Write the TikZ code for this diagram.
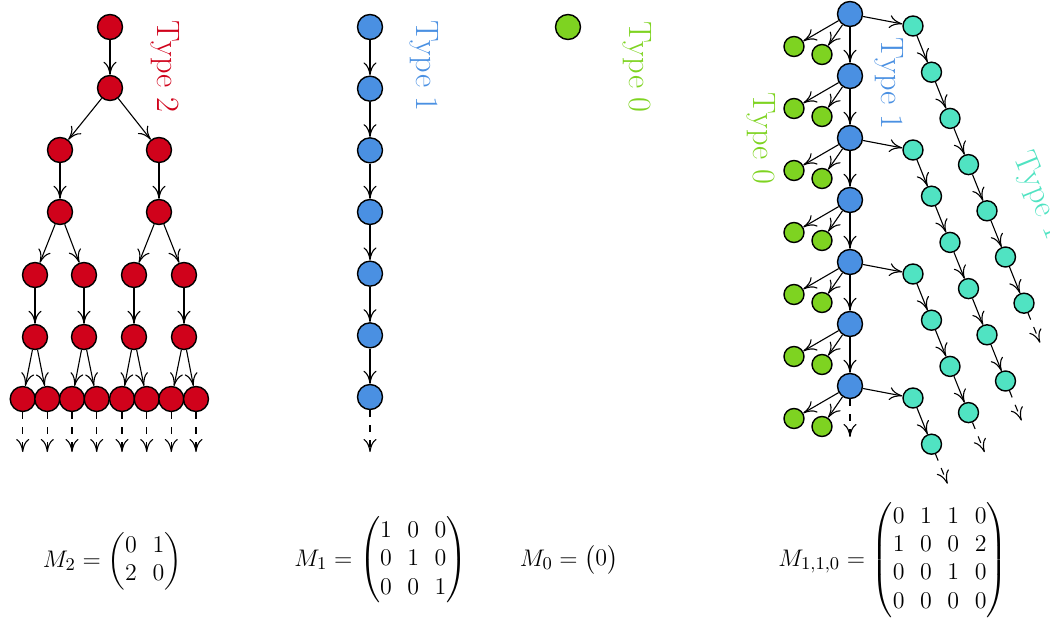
\documentclass[tikz,border=0pt]{standalone}
\usepackage{amsmath}
\usetikzlibrary{arrows.meta}
\definecolor{tred}{HTML}{D0021B}
\definecolor{tblue}{HTML}{4A90E2}
\definecolor{tgreen}{HTML}{7ED321}
\definecolor{tteal}{HTML}{50E3C2}
\begin{document}
\begin{tikzpicture}[x=0.5pt,y=-0.5pt,
  big/.style={circle,draw=black,line width=0.7pt,minimum size=12.5pt,inner sep=0pt},
  small/.style={circle,draw=black,line width=0.7pt,minimum size=10pt,inner sep=0pt},
  arr/.style={-{To[length=6.5pt,width=6.5pt]},line width=0.55pt},
  darr/.style={arr,dash pattern=on 3.5pt off 4pt},
  lbl/.style={font=\fontsize{16.2}{19}\selectfont,inner sep=0pt,rotate=-90},
  lblt/.style={font=\fontsize{16.2}{19}\selectfont,inner sep=0pt,rotate=-68},
  mat/.style={font=\fontsize{12.6}{14.2}\selectfont,inner sep=0pt}]
\useasboundingbox (0,0) rectangle (1050,621);

% ---------- Type 2 tree ----------
\node[big,fill=tred] (r1) at (110,27) {};
\node[big,fill=tred] (r2) at (110,88) {};
\node[big,fill=tred] (r3-1) at (60,150) {};
\node[big,fill=tred] (r3-2) at (159,150) {};
\node[big,fill=tred] (r4-1) at (60,212) {};
\node[big,fill=tred] (r4-2) at (159,212) {};
\foreach \i/\x in {1/35,2/84,3/134,4/184} {
  \node[big,fill=tred] (r5-\i) at (\x,275) {};
  \node[big,fill=tred] (r6-\i) at (\x,337) {};
}
\foreach \i/\x in {1/22.7,2/47.3,3/72,4/96.7,5/122,6/146.7,7/171.3,8/196} {
  \node[big,fill=tred] (r7-\i) at (\x,399) {};
  \coordinate (r7e-\i) at (\x,452);
}
\draw[arr] (r1) -- (r2);
\draw[arr] (r2) -- (r3-1);
\draw[arr] (r2) -- (r3-2);
\draw[arr] (r3-1) -- (r4-1);
\draw[arr] (r3-2) -- (r4-2);
\draw[arr] (r4-1) -- (r5-1);
\draw[arr] (r4-1) -- (r5-2);
\draw[arr] (r4-2) -- (r5-3);
\draw[arr] (r4-2) -- (r5-4);
\foreach \i in {1,...,4} { \draw[arr] (r5-\i) -- (r6-\i); }
\draw[arr] (r6-1) -- (r7-1);
\draw[arr] (r6-1) -- (r7-2);
\draw[arr] (r6-2) -- (r7-3);
\draw[arr] (r6-2) -- (r7-4);
\draw[arr] (r6-3) -- (r7-5);
\draw[arr] (r6-3) -- (r7-6);
\draw[arr] (r6-4) -- (r7-7);
\draw[arr] (r6-4) -- (r7-8);
\foreach \i in {1,...,8} { \draw[darr] (r7-\i) -- (r7e-\i); }
\node[lbl,text=tred] (l2) at (165,66.5) {Type 2};

% ---------- Type 1 chain ----------
\foreach \i in {1,...,7} {
  \node[big,fill=tblue] (b-\i) at (370,{27+61.667*(\i-1)}) {};
}
\foreach \i [evaluate=\i as \j using int(\i+1)] in {1,...,6} { \draw[arr] (b-\i) -- (b-\j); }
\coordinate (be) at (370,452);
\draw[darr] (b-7) -- (be);
\node[lbl,text=tblue] (l1) at (424,66) {Type 1};

% ---------- Type 0 ----------
\node[big,fill=tgreen] (g0) at (568,27) {};
\node[lbl,text=tgreen] (l0) at (637,67) {Type 0};

% ---------- M_{1,1,0} ----------
\foreach \i in {1,...,7} {
  \node[big,fill=tblue] (B\i) at (850,{14+62*(\i-1)}) {};
  \node[small,fill=tgreen] (Ga\i) at (794,{14+62*(\i-1)+32.5}) {};
  \node[small,fill=tgreen] (Gb\i) at (822,{14+62*(\i-1)+40.5}) {};
  \draw[arr] (B\i) -- (Ga\i);
  \draw[arr] (B\i) -- (Gb\i);
}
\foreach \i [evaluate=\i as \j using int(\i+1)] in {1,...,6} { \draw[arr] (B\i) -- (B\j); }
\coordinate (Be) at (850,437);
\draw[darr] (B7) -- (Be);

\foreach \c/\b/\y/\n in {1/1/26/7, 2/3/150/6, 3/5/274/4, 4/7/398/2} {
  \foreach \k in {1,...,\n} {
    \node[small,fill=tteal] (t\c-\k) at ({913+18.5*(\k-1)},{\y+46.2*(\k-1)}) {};
  }
  \draw[arr] (B\b) -- (t\c-1);
  \foreach \k [evaluate=\k as \p using int(\k-1)] in {2,...,\n} { \draw[arr] (t\c-\p) -- (t\c-\k); }
  \coordinate (te\c) at ({913+18.5*(\n-1)+16},{\y+46.2*(\n-1)+39.5});
  \draw[darr] (t\c-\n) -- (te\c);
}
\node[lbl,text=tgreen] (L0) at (761,138.5) {Type 0};
\node[lbl,text=tblue] (L1) at (889,83.5) {Type 1};
\node[lblt,text=tteal] (L1t) at (1038,196) {Type 1};

% ---------- matrices ----------
\node[mat] (m2) at (112.5,561) {\setlength{\arraycolsep}{3.9pt}$M_2 = \begin{pmatrix}0&1\\2&0\end{pmatrix}$};
\node[mat] (m1) at (381,560) {\setlength{\arraycolsep}{3.9pt}$M_1 = \begin{pmatrix}1&0&0\\0&1&0\\0&0&1\end{pmatrix}$};
\node[mat] (m0) at (569,560) {\setlength{\arraycolsep}{3.9pt}$M_0 = \begin{pmatrix}0\end{pmatrix}$};
\node[mat] (m110) at (893,560) {\setlength{\arraycolsep}{3.9pt}$M_{1,1,0} = \begin{pmatrix}0&1&1&0\\1&0&0&2\\0&0&1&0\\0&0&0&0\end{pmatrix}$};
\end{tikzpicture}
\end{document}
